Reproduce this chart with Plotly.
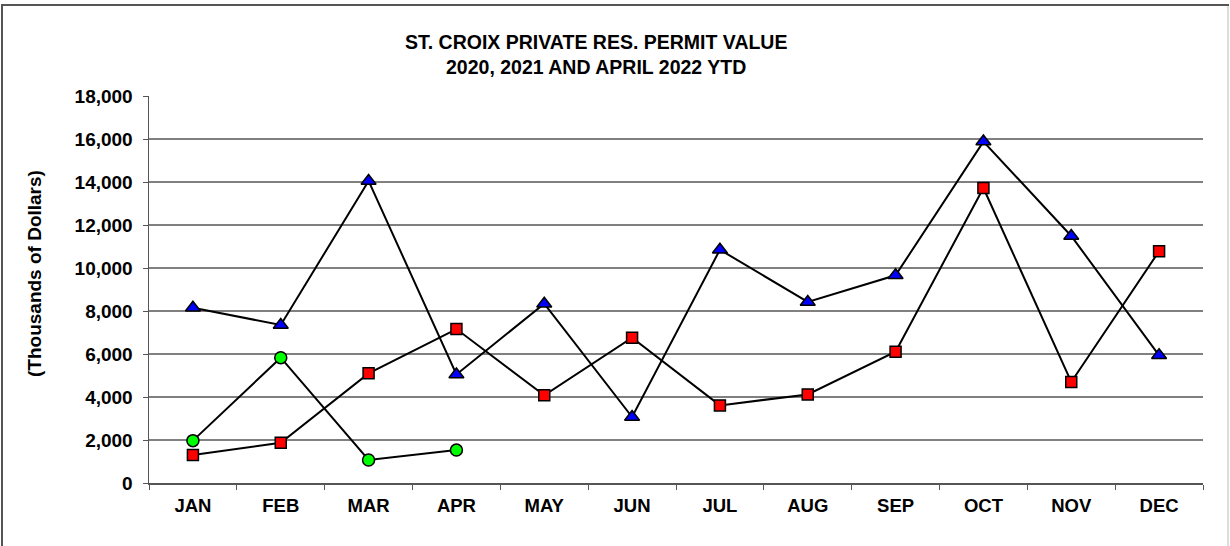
import plotly.graph_objects as go

months = ["JAN", "FEB", "MAR", "APR", "MAY", "JUN", "JUL", "AUG", "SEP", "OCT", "NOV", "DEC"]
values_2020 = [8150, 7350, 14050, 5050, 8340, 3070, 10850, 8420, 9660, 15880, 11490, 5940]
values_2021 = [1300, 1870, 5100, 7160, 4080, 6760, 3610, 4120, 6110, 13720, 4700, 10780]
months_2022 = ["JAN", "FEB", "MAR", "APR"]
values_2022 = [1970, 5830, 1070, 1530]

W, H = 1230, 546
L, R, T, B = 149, 27, 96, 63
pw, ph = W - L - R, H - T - B

def px(x):
    return (x - L) / pw

def py(y):
    return 1 - (y - T) / ph

FONT = "Liberation Sans, Arial, sans-serif"

fig = go.Figure()
fig.add_trace(go.Scatter(
    x=months, y=values_2020, name="2020", mode="lines+markers",
    line=dict(color="black", width=2),
    marker=dict(symbol="triangle-up", size=13, color="#0000ff",
                line=dict(color="black", width=1.5)),
))
fig.add_trace(go.Scatter(
    x=months, y=values_2021, name="2021", mode="lines+markers",
    line=dict(color="black", width=2),
    marker=dict(symbol="square", size=11, color="#ff0000",
                line=dict(color="black", width=1.5)),
))
fig.add_trace(go.Scatter(
    x=months_2022, y=values_2022, name="2022", mode="lines+markers",
    line=dict(color="black", width=2),
    marker=dict(symbol="circle", size=12, color="#00ff00",
                line=dict(color="black", width=1.5)),
))

fig.update_layout(
    width=W, height=H,
    margin=dict(l=L, r=R, t=T, b=B, pad=0),
    paper_bgcolor="white", plot_bgcolor="white",
    showlegend=False,
    font=dict(family=FONT, size=18, color="black"),
    xaxis=dict(
        type="category", categoryorder="array", categoryarray=months,
        range=[-0.5, 11.5], tickson="boundaries",
        ticks="outside", ticklen=5, tickcolor="#555555", tickwidth=1,
        showline=True, linecolor="#555555", linewidth=1.5,
        showgrid=False, fixedrange=True, ticklabelstandoff=5,
        tickfont=dict(family=FONT, size=18.5, color="black", weight="bold"),
    ),
    yaxis=dict(
        range=[0, 18000], dtick=2000, tickformat=",d",
        ticks="outside", ticklen=5, tickcolor="#555555", tickwidth=1,
        showline=True, linecolor="#555555", linewidth=1.5,
        showgrid=True, gridcolor="#808080", gridwidth=1.5,
        zeroline=False, ticklabelstandoff=6,
        tickfont=dict(family=FONT, size=19, color="black", weight="bold"),
    ),
    annotations=[
        dict(text="ST. CROIX PRIVATE RES. PERMIT VALUE", xref="paper", yref="paper",
             x=px(596), y=py(42), xanchor="center", yanchor="middle", showarrow=False,
             font=dict(family=FONT, size=19.5, color="black", weight="bold")),
        dict(text="2020, 2021 AND APRIL 2022 YTD", xref="paper", yref="paper",
             x=px(596), y=py(67), xanchor="center", yanchor="middle", showarrow=False,
             font=dict(family=FONT, size=19.5, color="black", weight="bold")),
        dict(text="(Thousands of Dollars)", xref="paper", yref="paper",
             x=px(34), y=py(273), xanchor="center", yanchor="middle", showarrow=False,
             textangle=-90,
             font=dict(family=FONT, size=19, color="black", weight="bold")),
    ],
    shapes=[
        dict(type="line", xref="paper", yref="paper", x0=px(1), x1=px(1229), y0=py(5), y1=py(5),
             line=dict(color="#555555", width=2)),
        dict(type="line", xref="paper", yref="paper", x0=px(2), x1=px(2), y0=py(4), y1=py(547),
             line=dict(color="#555555", width=2)),
        dict(type="line", xref="paper", yref="paper", x0=px(1228), x1=px(1228), y0=py(6), y1=py(547),
             line=dict(color="#dddddd", width=2)),
    ],
)

fig.write_html(
    "out.html",
    config={"displayModeBar": False, "staticPlot": True},
    post_script="document.body.style.margin='0';document.body.style.overflow='hidden';",
)
